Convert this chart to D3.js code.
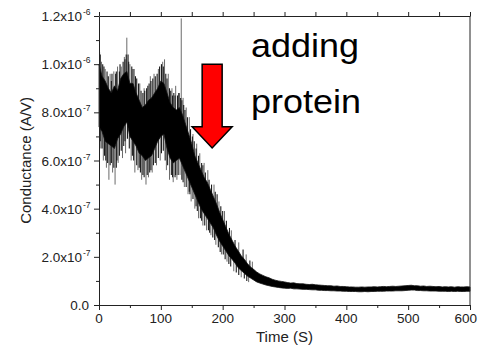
<!DOCTYPE html>
<html><head><meta charset="utf-8">
<script src="https://cdn.jsdelivr.net/npm/d3@7"></script>
<style>
body{margin:0;background:#fff;}
text{font-family:Arial,"Liberation Sans",sans-serif;}
</style></head>
<body>
<script>
// ---- data (conductance in units of 1e-7 A/V) ----
const UNIT = 1e-7;
const sampleStep = 5;                     // seconds between samples
const timeStart = 0, timeEnd = 600;
const coreHi = [10.0,9.5,9.3,9.0,8.8,9.1,8.9,9.4,9.6,9.7,
  9.2,9.2,8.8,8.5,8.2,8.3,8.5,8.6,8.8,9.0,
  9.3,9.2,8.8,8.4,8.2,8.1,8.2,7.9,7.5,7.1,
  6.7,6.2,5.9,5.6,5.3,5.1,4.8,4.5,4.2,3.85,
  3.55,3.25,2.95,2.7,2.45,2.25,2.05,1.9,1.72,1.58,
  1.48,1.37,1.29,1.23,1.17,1.13,1.07,1.03,1.0,0.98,0.96,
  .93,.91,.92,.89,.88,.88,.86,.85,.86,.84,
  .83,.82,.81,.80,.80,.78,.79,.77,.77,.76,
  .75,.75,.74,.74,.75,.74,.75,.75,.76,.75,
  .76,.77,.76,.77,.78,.77,.78,.79,.80,.81,
  .82,.80,.80,.78,.79,.77,.78,.77,.76,.77,
  .75,.76,.75,.76,.74,.76,.75,.75,.76,.75];
const coreLo = [7.4,7.2,6.8,6.7,6.6,6.5,6.9,7.1,7.4,7.6,
  7.0,6.8,6.6,6.3,6.2,6.0,6.1,6.2,6.5,6.8,
  7.0,7.1,6.5,6.1,5.9,6.0,6.1,5.8,5.5,5.2,
  4.9,4.6,4.3,4.0,3.8,3.6,3.4,3.2,2.9,2.65,
  2.45,2.25,2.05,1.9,1.74,1.55,1.43,1.32,1.2,1.12,
  1.04,0.96,0.91,0.87,0.83,0.8,0.77,0.75,0.73,0.71,0.7,
  .69,.70,.67,.67,.66,.65,.65,.64,.63,.63,
  .61,.61,.60,.60,.59,.59,.58,.58,.57,.57,
  .56,.56,.56,.55,.55,.56,.55,.56,.56,.57,
  .57,.57,.58,.58,.58,.59,.59,.59,.60,.61,
  .62,.62,.60,.60,.59,.59,.58,.58,.58,.57,
  .57,.57,.56,.57,.56,.57,.56,.56,.57,.57];
// long noise excursions (faint): [time s, value]
const spikesUp = [[1,10.5],[4,10.1],[10,9.8],[18,9.6],[24,9.7],[30,9.9],[36,9.9],[41,10.3],[45,11.1],[50,10.0],
  [57,9.8],[66,9.2],[73,9.0],[83,9.5],[89,9.6],[96,9.8],[103,10.1],[106,10.2],[112,9.6],[118,9.0],
  [124,9.1],[130,8.8],[133,11.9],[136,8.6],[141,8.2],[146,7.8],[152,7.1],[158,6.7],[163,6.3],[170,5.9],
  [176,5.6],[186,5.0],[194,4.3],[203,3.9],[214,3.1],[226,2.6],[238,2.1],[248,1.8]];
const spikesDown = [[3,6.5],[7,6.0],[12,5.7],[16,5.2],[22,5.5],[26,5.0],[31,5.9],[38,6.1],[43,6.3],[52,6.0],
  [58,5.5],[63,5.6],[69,5.2],[76,5.0],[80,5.3],[86,5.5],[93,5.8],[99,6.0],[109,5.6],[114,5.2],
  [120,5.1],[126,5.2],[131,5.4],[138,4.9],[144,4.6],[149,4.3],[155,4.0],[161,3.6],[168,3.3],[174,3.1],
  [181,2.9],[189,2.5],[198,2.1],[207,1.8],[218,1.4],[230,1.15],[242,0.95]];
// short dense noise excursions (dark): [time s, value]
const jitterUp = [[2,10.4],[6,10.0],[8,9.9],[13,9.7],[15,9.5],[20,9.3],[21,9.6],[27,9.6],[28,9.7],[33,9.7],
  [34,10.0],[39,10.1],[42,10.2],[44,10.4],[47,10.4],[48,10.1],[53,9.9],[55,9.8],[59,9.5],[61,9.4],
  [64,9.2],[68,8.9],[71,8.8],[74,8.9],[77,9.0],[79,9.1],[81,9.2],[84,9.3],[87,9.4],[91,9.5],
  [94,9.6],[98,9.9],[101,10.0],[104,9.9],[108,9.6],[110,9.4],[114,9.0],[116,8.9],[119,8.7],[121,8.8],
  [123,8.7],[127,8.7],[129,8.8],[132,8.6],[134,8.5],[137,8.3],[139,8.1],[143,7.8],[148,7.3],[151,7.0],
  [154,6.8],[157,6.5],[161,6.2],[166,5.9],[168,5.8],[172,5.5],[178,5.2],[182,5.0],[188,4.7],[191,4.6],
  [197,4.1],[200,3.9],[206,3.5],[211,3.2],[220,2.7],[233,2.3],[244,1.85]];
const jitterDown = [[2,6.8],[5,6.5],[9,6.2],[11,6.0],[14,5.9],[18,5.8],[20,5.9],[24,5.7],[28,5.7],[29,6.0],
  [33,6.2],[36,6.4],[40,6.6],[42,6.8],[46,6.9],[49,6.5],[54,6.2],[56,6.0],[61,5.8],[65,5.7],
  [67,5.5],[71,5.4],[73,5.3],[78,5.4],[82,5.5],[84,5.6],[88,5.8],[91,5.9],[96,6.1],[101,6.3],
  [104,6.4],[107,6.0],[111,5.8],[117,5.4],[119,5.3],[123,5.3],[124,5.4],[128,5.4],[134,5.2],[136,5.1],
  [141,4.9],[146,4.7],[147,4.6],[152,4.4],[157,4.1],[159,3.9],[164,3.6],[166,3.5],[171,3.3],[177,3.1],
  [179,3.0],[184,2.8],[187,2.7],[193,2.4],[196,2.2],[201,2.1],[204,1.9],[210,1.7],[213,1.6],[222,1.35],
  [226,1.25],[235,1.1],[239,1.0]];
const xTicks = [0,100,200,300,400,500,600];
const yTicks = [0,2e-7,4e-7,6e-7,8e-7,1.0e-6,1.2e-6];
const yTickLabels = [["0.0",""],["2.0x10","-7"],["4.0x10","-7"],["6.0x10","-7"],["8.0x10","-7"],["1.0x10","-6"],["1.2x10","-6"]];
const xTitle = "Time (S)", yTitle = "Conductance (A/V)";
const annotation = ["adding","protein"];
const arrowTime = 183, arrowTop = 1.0e-6, arrowHeadBase = 7.4e-7, arrowTip = 6.52e-7;

// ---- chart ----
const W = 478, H = 346;
const svg = d3.select("body").append("svg").attr("width", W).attr("height", H);
const x = d3.scaleLinear().domain([0, 600]).range([99, 470]);
const y = d3.scaleLinear().domain([0, 1.2e-6]).range([305, 16]);

const time = d3.range(timeStart, timeEnd + 1, sampleStep);
const samples = time.map((t, i) => ({t, hi: coreHi[i] * UNIT, lo: coreLo[i] * UNIT}));
const mid = t => { const i = Math.round(t / sampleStep); return (coreHi[i] + coreLo[i]) / 2 * UNIT; };

const plot = svg.append("g");
plot.selectAll("line.spk").data(spikesUp.concat(spikesDown)).join("line").attr("class", "spk")
  .attr("x1", d => x(d[0])).attr("x2", d => x(d[0]))
  .attr("y1", d => y(mid(d[0]))).attr("y2", d => y(d[1] * UNIT))
  .attr("stroke", "#6a6a6a").attr("stroke-width", 1);
plot.selectAll("line.jit").data(jitterUp.concat(jitterDown)).join("line").attr("class", "jit")
  .attr("x1", d => x(d[0])).attr("x2", d => x(d[0]))
  .attr("y1", d => y(mid(d[0]))).attr("y2", d => y(d[1] * UNIT))
  .attr("stroke", "#1a1a1a").attr("stroke-width", 1.1);
plot.append("path").datum(samples)
  .attr("d", d3.area().x(d => x(d.t)).y0(d => y(d.lo)).y1(d => y(d.hi)))
  .attr("fill", "#000").attr("stroke", "#111").attr("stroke-width", 0.8);

// axes
const axisColor = "#222";
svg.append("g").attr("transform", "translate(99,0)")
  .call(d3.axisLeft(y).tickValues(yTicks).tickSize(5).tickSizeOuter(0).tickFormat(""));
svg.append("g").attr("transform", "translate(99,0)")
  .call(d3.axisLeft(y).tickValues(d3.range(1, 12, 2).map(v => v * 1e-7)).tickSize(3).tickSizeOuter(0).tickFormat(""))
  .select(".domain").remove();
svg.append("g").attr("transform", "translate(0,305)")
  .call(d3.axisBottom(x).tickValues(xTicks).tickSize(5).tickSizeOuter(0).tickFormat(""));
svg.append("g").attr("transform", "translate(0,305)")
  .call(d3.axisBottom(x).tickValues(d3.range(50, 600, 100)).tickSize(3).tickSizeOuter(0).tickFormat(""))
  .select(".domain").remove();
svg.append("g").attr("transform", "translate(0,16)")
  .call(d3.axisTop(x).tickValues(d3.range(0, 601, 50)).tickSize(4).tickSizeOuter(0).tickFormat(""));
svg.append("line").attr("x1", x(600)).attr("x2", x(600)).attr("y1", y(1.2e-6)).attr("y2", y(0))
  .attr("stroke", axisColor);
svg.selectAll(".domain, .tick line").attr("stroke", axisColor);

// tick labels
svg.append("g").selectAll("text").data(yTicks).join("text")
  .attr("x", (d, i) => i === 0 ? 89 : 82).attr("y", d => y(d) + 5)
  .attr("text-anchor", "end").attr("font-size", 13.5).attr("fill", "#222")
  .text((d, i) => yTickLabels[i][0]);
svg.append("g").selectAll("text").data(yTicks.filter((d, i) => yTickLabels[i][1]))
  .join("text").attr("x", 83).attr("y", d => y(d) - 1)
  .attr("font-size", 8.5).attr("fill", "#222")
  .text(d => yTickLabels[yTicks.indexOf(d)][1]);
svg.append("g").selectAll("text").data(xTicks).join("text")
  .attr("x", d => d === 600 ? W - 1 : x(d)).attr("y", 323)
  .attr("text-anchor", d => d === 600 ? "end" : "middle")
  .attr("font-size", 13.5).attr("fill", "#222").text(d => d);

svg.append("text").attr("x", (x(0) + x(600)) / 2).attr("y", 342).attr("text-anchor", "middle")
  .attr("font-size", 15).attr("fill", "#222").text(xTitle);
svg.append("text").attr("transform", `translate(31,${(y(0) + y(1.2e-6)) / 2}) rotate(-90)`)
  .attr("text-anchor", "middle").attr("font-size", 15).attr("fill", "#222").text(yTitle);

// annotation
const ax = x(arrowTime);
const arrowPts = [[ax - 10, y(arrowTop)], [ax + 10, y(arrowTop)], [ax + 10, y(arrowHeadBase)], [ax + 20, y(arrowHeadBase)],
  [ax, y(arrowTip)], [ax - 20, y(arrowHeadBase)], [ax - 10, y(arrowHeadBase)]];
svg.append("polygon").attr("points", arrowPts.map(p => p.join(",")).join(" "))
  .attr("fill", "#ff0000").attr("stroke", "#000").attr("stroke-width", 1.5).attr("stroke-linejoin", "miter");
svg.selectAll("text.ann").data(annotation).join("text").attr("class", "ann")
  .attr("transform", (d, i) => `translate(251,${57 + i * 56}) scale(1.09,1)`)
  .attr("font-size", 33).attr("fill", "#000").text(d => d);
</script>
</body></html>
